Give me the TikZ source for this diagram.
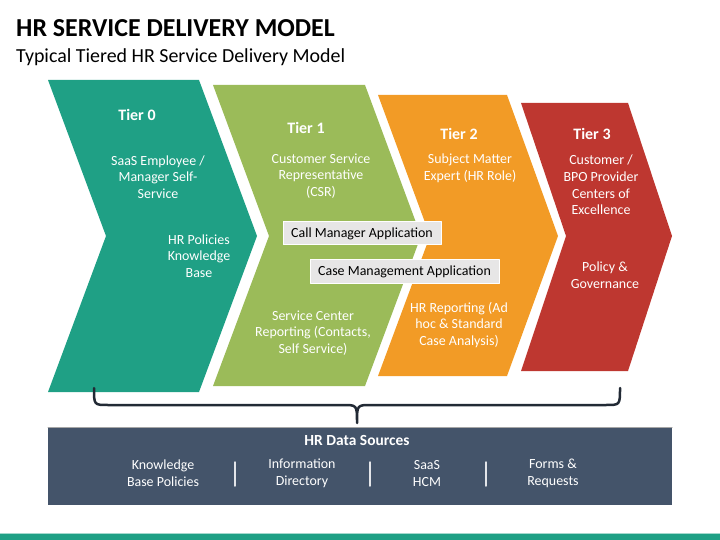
\documentclass[tikz,border=0pt]{standalone}
\usepackage{fontspec}
\setmainfont{Carlito}
\usepackage{color}
\definecolor{tealc}{RGB}{31,160,133}
\definecolor{greenc}{RGB}{155,187,89}
\definecolor{orangec}{RGB}{242,155,38}
\definecolor{redc}{RGB}{190,55,48}
\definecolor{slatec}{RGB}{68,84,106}
\definecolor{bracec}{RGB}{34,42,53}
\definecolor{appgray}{RGB}{231,230,230}
\tikzstyle{tiertitle}=[text=white, font=\fontsize{16}{19}\selectfont\bfseries]
\tikzstyle{tiertext}=[text=white, align=center, inner sep=0pt, font=\fontsize{14}{16.7}\selectfont]
\tikzstyle{appbox}=[fill=appgray, draw=white, line width=1bp, minimum height=23bp, inner sep=0pt, font=\fontsize{14}{16}\selectfont]
\tikzstyle{srctext}=[text=white, align=center, inner sep=0pt, font=\fontsize{14}{16.7}\selectfont]

\begin{document}
\begin{tikzpicture}[x=1bp, y=-1bp, line cap=round, line join=round]
          \useasboundingbox (0,0) rectangle (720,540);
          %titulo
          \node[anchor=base west, inner sep=0pt, font=\fontsize{26}{30}\selectfont\bfseries] (title) at (16,37) {HR SERVICE DELIVERY MODEL};
          \node[anchor=base west, inner sep=0pt, font=\fontsize{20}{24}\selectfont] (subtitle) at (16,63) {Typical Tiered HR Service Delivery Model};
          %chevrones
          \fill[tealc] (48,80) -- (199,80) -- (257,236) -- (199,392) -- (48,392) -- (106,236) -- cycle;
          \fill[greenc] (213,85) -- (365,85) -- (421,236) -- (365,386) -- (213,386) -- (269,236) -- cycle;
          \fill[orangec] (378,95) -- (507,95) -- (558,236) -- (507,376) -- (378,376) -- (430,236) -- cycle;
          \fill[redc] (521,103) -- (628,103) -- (672,236) -- (628,371) -- (521,371) -- (566,236) -- cycle;
          %tier 0
          \node[tiertitle] (t0) at (137,115) {Tier 0};
          \node[tiertext] (t0a) at (158,177) {SaaS Employee /\\Manager Self-\\Service};
          \node[tiertext] (t0b) at (199,256) {HR Policies\\Knowledge\\Base};
          %tier 1
          \node[tiertitle] (t1) at (306,128) {Tier 1};
          \node[tiertext] (t1a) at (321,176) {Customer Service\\Representative\\(CSR)};
          \node[tiertext] (t1b) at (313,333) {Service Center\\Reporting (Contacts,\\Self Service)};
          %tier 2
          \node[tiertitle] (t2) at (459,134) {Tier 2};
          \node[tiertext] (t2a) at (470,168) {Subject Matter\\Expert (HR Role)};
          \node[tiertext] (t2b) at (459,325) {HR Reporting (Ad\\hoc \& Standard\\Case Analysis)};
          %tier 3
          \node[tiertitle] (t3) at (592,134) {Tier 3};
          \node[tiertext] (t3a) at (601,185) {Customer /\\BPO Provider\\Centers of\\Excellence};
          \node[tiertext] (t3b) at (605,275) {Policy \&\\Governance};
          %aplicaciones
          \node[appbox, minimum width=158bp] (callapp) at (362,233.5) {Call Manager Application};
          \node[appbox, minimum width=189bp] (caseapp) at (404.5,271.5) {Case Management Application};
          %llave
          \coordinate (brl) at (94,388);
          \coordinate (brtip) at (357,423);
          \coordinate (brr) at (620,388);
          \draw[bracec, line width=2.5bp] (brl) .. controls (94,405) .. (108,405) -- (343,405)
                .. controls (357,405) .. (brtip) .. controls (357,405) .. (371,405) -- (606,405)
                .. controls (620,405) .. (brr);
          %fuentes de datos
          \fill[slatec] (48,427) rectangle (672,505);
          \draw[gray!70, line width=1bp] (48,427) -- (672,427);
          \node[text=white, inner sep=0pt, font=\fontsize{15.5}{18}\selectfont\bfseries] (hrdata) at (357,440) {HR Data Sources};
          \node[srctext] (src1) at (163,473.5) {Knowledge\\Base Policies};
          \node[srctext] (src2) at (302,473.5) {Information\\Directory};
          \node[srctext] (src3) at (427,473.5) {SaaS\\HCM};
          \node[srctext] (src4) at (553,473.5) {Forms \&\\Requests};
          \foreach \sx in {235,370,486}
            \draw[white!85!slatec, line width=1.5bp] (\sx,462) -- (\sx,486);
          %franja inferior
          \fill[tealc] (0,534) rectangle (720,540);
          \draw[tealc!40, line width=1bp] (0,533) -- (720,533);
\end{tikzpicture}
\end{document}
